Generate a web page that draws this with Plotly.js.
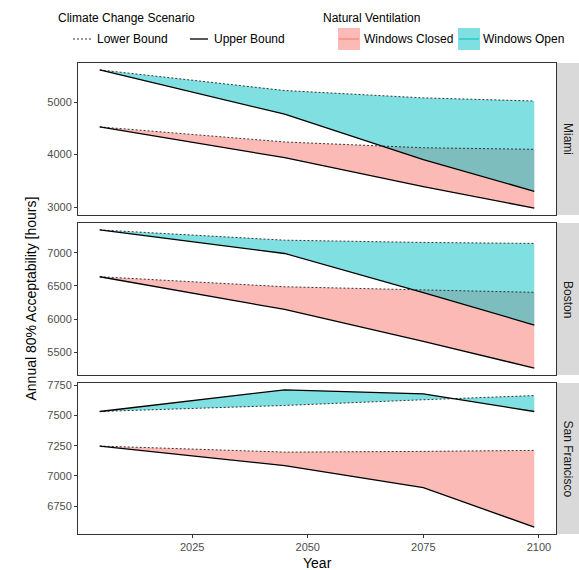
<!DOCTYPE html>
<html>
<head>
<meta charset="utf-8">
<script src="https://cdn.plot.ly/plotly-3.0.1.min.js"></script>
<style>html,body{margin:0;padding:0;background:#fff;}#chart{width:579px;height:570px;}</style>
</head>
<body>
<div id="chart"></div>
<script>
// ---- data ----
const years = [2005, 2045, 2075, 2099];
const cities = ["Miami", "Boston", "San Francisco"];

const miamiClosedLower = [4527, 4240, 4130, 4100];
const miamiClosedUpper = [4527, 3940, 3390, 2980];
const miamiOpenLower   = [5613, 5220, 5080, 5020];
const miamiOpenUpper   = [5613, 4770, 3905, 3300];

const bostonClosedLower = [6639, 6488, 6440, 6404];
const bostonClosedUpper = [6639, 6145, 5665, 5260];
const bostonOpenLower   = [7346, 7191, 7157, 7142];
const bostonOpenUpper   = [7346, 6990, 6400, 5910];

const sfClosedLower = [7247, 7197, 7203, 7211];
const sfClosedUpper = [7247, 7085, 6903, 6576];
const sfOpenLower   = [7533, 7583, 7630, 7665];
const sfOpenUpper   = [7533, 7712, 7679, 7533];

const xTicks = [2025, 2050, 2075, 2100];
const yTicks = [[3000, 4000, 5000], [5500, 6000, 6500, 7000], [6750, 7000, 7250, 7500, 7750]];

const panels = [
  {closedLower: miamiClosedLower, closedUpper: miamiClosedUpper, openLower: miamiOpenLower, openUpper: miamiOpenUpper},
  {closedLower: bostonClosedLower, closedUpper: bostonClosedUpper, openLower: bostonOpenLower, openUpper: bostonOpenUpper},
  {closedLower: sfClosedLower, closedUpper: sfClosedUpper, openLower: sfOpenLower, openUpper: sfOpenUpper}
];

// ---- styling ----
const W = 579, H = 570;
const L = 78, R = 556, T = 63, B = 534;       // panel area in px
const pw = W - L, ph = B - T;                  // paper size (r margin 0)
const px2x = p => (p - L) / pw;
const py2y = p => (B - p) / ph;
const panelPx = [[63, 215], [223, 375], [383, 534]];

const closedFill = "rgba(248,118,109,0.5)";
const openFill = "rgba(0,191,196,0.5)";
const FONT = "Liberation Sans, Arial, sans-serif";
const DASH = {color: "#222", width: 0.9, dash: "2px,2px"};

function expand(arrs) {
  const all = [].concat(...arrs);
  const mn = Math.min(...all), mx = Math.max(...all);
  const d = (mx - mn) * 0.05;
  return [mn - d, mx + d];
}
const xr = (() => { const d = (years[years.length-1] - years[0]) * 0.05; return [years[0] - d, years[years.length-1] + d]; })();

const traces = [];
panels.forEach((p, i) => {
  const xa = i === 0 ? "x" : "x" + (i + 1);
  const ya = i === 0 ? "y" : "y" + (i + 1);
  const poly = (lo, up) => ({
    x: years.concat(years.slice().reverse()),
    y: lo.concat(up.slice().reverse())
  });
  const c = poly(p.closedLower, p.closedUpper);
  traces.push({x: c.x, y: c.y, xaxis: xa, yaxis: ya, type: "scatter", mode: "lines",
    fill: "toself", fillcolor: closedFill, line: {width: 0}, hoverinfo: "skip", showlegend: false});
  const o = poly(p.openLower, p.openUpper);
  traces.push({x: o.x, y: o.y, xaxis: xa, yaxis: ya, type: "scatter", mode: "lines",
    fill: "toself", fillcolor: openFill, line: {width: 0}, hoverinfo: "skip", showlegend: false});
  [p.closedLower, p.openLower].forEach(v => traces.push({x: years, y: v, xaxis: xa, yaxis: ya,
    type: "scatter", mode: "lines", line: DASH, showlegend: false}));
  [p.closedUpper, p.openUpper].forEach(v => traces.push({x: years, y: v, xaxis: xa, yaxis: ya,
    type: "scatter", mode: "lines", line: {color: "#000", width: 1.3}, showlegend: false}));
});

const layout = {
  width: W, height: H,
  margin: {l: L, r: 0, t: T, b: H - B, pad: 0},
  paper_bgcolor: "#fff", plot_bgcolor: "#fff",
  font: {family: FONT, size: 11, color: "#4D4D4D"},
  showlegend: false,
  shapes: [], annotations: []
};
const xdom = [0, px2x(R)];
panels.forEach((p, i) => {
  const sfx = i === 0 ? "" : String(i + 1);
  const ydom = [py2y(panelPx[i][1]), py2y(panelPx[i][0])];
  layout["xaxis" + sfx] = {
    domain: xdom, anchor: "y" + sfx, range: xr, tickvals: xTicks,
    showticklabels: i === 2, ticks: i === 2 ? "outside" : "", ticklen: 3, tickcolor: "#333",
    showline: true, mirror: true, linecolor: "#333", linewidth: 1, showgrid: false, zeroline: false,
    tickfont: {size: 11, color: "#4D4D4D"}
  };
  layout["yaxis" + sfx] = {
    domain: ydom, anchor: "x" + sfx,
    range: expand([p.closedLower, p.closedUpper, p.openLower, p.openUpper]),
    tickvals: yTicks[i], ticks: "outside", ticklen: 3, tickcolor: "#333",
    showline: true, mirror: true, linecolor: "#333", linewidth: 1, showgrid: false, zeroline: false,
    tickfont: {size: 11, color: "#4D4D4D"}
  };
  // strip
  layout.shapes.push({type: "rect", xref: "paper", yref: "paper",
    x0: px2x(R + 1), x1: px2x(W), y0: ydom[0], y1: ydom[1],
    fillcolor: "#D9D9D9", line: {width: 0}, layer: "below"});
  layout.annotations.push({xref: "paper", yref: "paper", x: px2x((R + W) / 2 + 0.5), y: (ydom[0] + ydom[1]) / 2,
    text: cities[i], showarrow: false, textangle: 90, font: {size: 12, color: "#1A1A1A"},
    xanchor: "center", yanchor: "middle"});
});

// axis titles
layout.annotations.push({xref: "paper", yref: "paper", x: px2x(30), y: py2y(298.5),
  text: "Annual 80% Acceptability [hours]", showarrow: false, textangle: -90,
  font: {size: 14, color: "#000"}, xanchor: "center", yanchor: "middle"});
layout.annotations.push({xref: "paper", yref: "paper", x: px2x((L + R) / 2), y: py2y(563),
  text: "Year", showarrow: false, font: {size: 14, color: "#000"}, xanchor: "center", yanchor: "middle"});

// legend (drawn with shapes/annotations)
const legY = 39, titleY = 18;
const leg = (txt, xpx, ypx, size) => layout.annotations.push({xref: "paper", yref: "paper",
  x: px2x(xpx), y: py2y(ypx), text: txt, showarrow: false, xanchor: "left", yanchor: "middle",
  font: {size: size, color: "#000"}});
leg("Climate Change Scenario", 56, titleY, 12);
leg("Natural Ventilation", 321, titleY, 12);
leg("Lower Bound", 95, legY, 12);
leg("Upper Bound", 212, legY, 12);
leg("Windows Closed", 362, legY, 12);
leg("Windows Open", 481, legY, 12);
layout.shapes.push({type: "line", xref: "paper", yref: "paper", x0: px2x(73), x1: px2x(92), y0: py2y(legY), y1: py2y(legY),
  line: DASH});
layout.shapes.push({type: "line", xref: "paper", yref: "paper", x0: px2x(190), x1: px2x(208), y0: py2y(legY), y1: py2y(legY),
  line: {color: "#000", width: 1.3}});
layout.shapes.push({type: "rect", xref: "paper", yref: "paper", x0: px2x(338), x1: px2x(360), y0: py2y(50), y1: py2y(28),
  fillcolor: closedFill, line: {width: 0}});
layout.shapes.push({type: "line", xref: "paper", yref: "paper", x0: px2x(339), x1: px2x(359), y0: py2y(legY), y1: py2y(legY),
  line: {color: "#F8766D", width: 1}});
layout.shapes.push({type: "rect", xref: "paper", yref: "paper", x0: px2x(458), x1: px2x(480), y0: py2y(50), y1: py2y(28),
  fillcolor: openFill, line: {width: 0}});
layout.shapes.push({type: "line", xref: "paper", yref: "paper", x0: px2x(459), x1: px2x(479), y0: py2y(legY), y1: py2y(legY),
  line: {color: "#00BFC4", width: 1}});

Plotly.newPlot("chart", traces, layout, {staticPlot: true, displayModeBar: false});
</script>
</body>
</html>
